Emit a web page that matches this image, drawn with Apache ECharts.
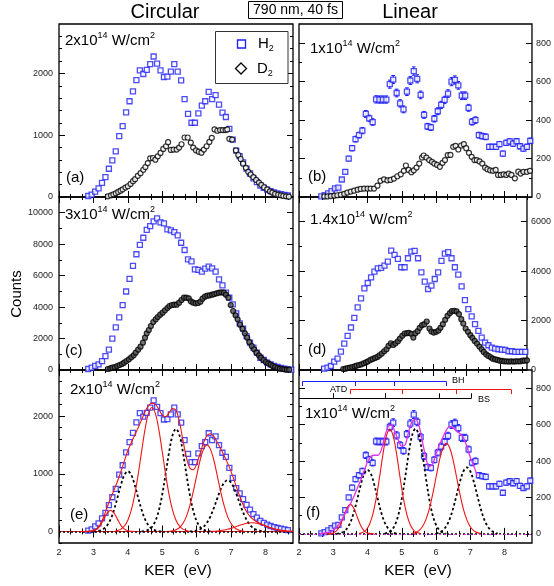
<!DOCTYPE html>
<html><head><meta charset="utf-8">
<script src="https://cdn.jsdelivr.net/npm/echarts@6/dist/echarts.min.js"></script>
<style>html,body{margin:0;padding:0;background:#fff}#c{width:554px;height:586px}</style>
</head><body><div id="c"></div>
<script>
// ---------------- DATA ----------------
// H2 KER bins (eV)
const kerH = [2.65,2.75,2.85,2.95,3.05,3.15,3.25,3.35,3.45,3.55,3.65,3.75,3.85,3.95,4.05,4.15,4.25,4.35,4.45,4.55,4.65,4.75,4.85,4.95,5.05,5.15,5.25,5.35,5.45,5.55,5.65,5.75,5.85,5.95,6.05,6.15,6.25,6.35,6.45,6.55,6.65,6.75,6.85,6.95,7.05,7.15,7.25,7.35,7.45,7.55,7.65,7.75,7.85,7.95,8.05,8.15,8.25,8.35,8.45,8.55,8.65,8.75];
// (a)/(e) circular 2e14, H2
const aH2 = [null,null,16,38,87,141,228,321,457,593,740,985,1148,1371,1550,1708,1893,2051,1991,2056,2149,2274,2160,2051,1942,1948,2029,2149,2029,1888,1583,1344,1202,1202,1355,1480,1550,1703,1583,1648,1496,1365,1295,1104,930,750,660,560,460,380,300,240,185,150,120,95,75,60,48,36,24,null];
// (b)/(f) linear 1e14, H2 and its error bars
const bH2 = [3,10,19,31,45,49,91,131,200,254,301,322,345,432,409,390,508,507,507,507,587,611,541,487,456,548,606,655,615,531,427,367,362,407,446,479,505,538,600,609,581,527,527,464,391,400,322,317,313,261,261,261,275,226,282,289,278,290,264,252,261,292];
const bH2err = [2,3,4,5,6,6,8,10,12,14,15,15,16,18,17,17,19,19,19,19,21,21,20,19,18,20,21,22,21,20,18,16,16,17,18,19,19,20,21,21,20,20,20,18,17,17,15,15,15,14,14,14,14,13,14,14,14,14,14,13,14,15];
// (c) circular 3e14, H2
const cH2 = [null,null,62,150,256,362,560,880,1300,2000,2710,3350,4130,4990,5800,6615,7360,7960,8410,8910,9150,9450,9640,9390,9320,8940,8880,8770,8560,8090,7630,7035,6910,6400,6360,6250,6440,6570,6460,6250,5760,5380,4920,4600,4170,3600,2970,2630,2160,1740,1420,1100,780,636,466,360,254,190,127,85,42,21];
// (d) linear 1.4e14, H2
const dH2 = [null,54,95,162,338,460,745,1070,1381,1720,2112,2532,2898,3304,3520,3751,3981,4116,4130,4224,4387,4834,4658,4495,4157,4157,4522,4793,4820,4522,3954,3575,3277,3412,3683,3954,4414,4712,4766,4522,4157,3859,3385,2830,2464,2166,1855,1584,1313,1110,1002,907,867,839,826,812,758,758,731,731,731,731];

// D2 (own KER bins)
const aD2x = [3.42,3.51,3.58,3.65,3.72,3.79,3.85,3.93,4.00,4.08,4.15,4.21,4.29,4.37,4.45,4.51,4.58,4.65,4.73,4.80,4.87,4.95,5.03,5.11,5.17,5.25,5.33,5.42,5.49,5.56,5.65,5.74,5.83,5.90,5.98,6.06,6.14,6.21,6.29,6.37,6.44,6.52,6.60,6.68,6.76,6.84,6.89,6.95,7.03,7.14,7.21,7.28,7.35,7.43,7.50,7.57,7.65,7.73,7.81,7.88,7.96,8.05,8.13,8.20,8.28,8.37,8.45,8.52,8.60,8.68];
const aD2y = [11,27,44,60,82,103,125,152,174,212,256,288,343,386,441,484,549,626,631,604,658,713,778,821,887,762,767,767,800,854,963,963,881,800,756,734,718,767,821,892,957,1093,1072,1083,1083,1083,1093,941,930,756,680,615,539,473,408,364,321,277,234,196,158,125,92,71,49,38,27,16,11,5];
const bD2x = [2.74,2.83,2.93,3.03,3.12,3.22,3.32,3.41,3.51,3.61,3.71,3.80,3.90,4.00,4.09,4.19,4.29,4.38,4.48,4.58,4.67,4.77,4.87,4.97,5.06,5.12,5.20,5.28,5.35,5.43,5.51,5.59,5.64,5.72,5.80,5.88,5.95,6.03,6.11,6.19,6.26,6.34,6.42,6.50,6.57,6.65,6.73,6.81,6.88,6.96,7.04,7.12,7.19,7.27,7.35,7.43,7.50,7.58,7.66,7.74,7.81,7.89,7.97,8.05,8.12,8.20,8.30,8.40,8.47,8.55,8.65,8.74];
const bD2y = [3,3,5,7,9,12,16,23,28,33,38,42,44,44,44,44,59,84,92,87,89,96,108,118,136,164,141,129,139,153,174,205,216,205,192,183,174,167,157,178,192,218,219,261,266,247,268,275,254,230,209,192,192,185,174,153,145,139,136,141,115,115,118,115,122,115,97,132,122,131,131,136];
const cD2x = [3.42,3.49,3.55,3.62,3.69,3.76,3.83,3.89,3.96,4.03,4.10,4.17,4.23,4.30,4.37,4.44,4.50,4.55,4.61,4.67,4.74,4.81,4.87,4.94,5.01,5.08,5.15,5.21,5.28,5.35,5.42,5.49,5.56,5.63,5.70,5.77,5.83,5.90,5.97,6.04,6.11,6.17,6.24,6.31,6.38,6.45,6.51,6.58,6.65,6.72,6.79,6.85,6.92,6.99,7.06,7.13,7.19,7.26,7.33,7.40,7.47,7.53,7.60,7.67,7.74,7.81,7.87,7.94,8.01,8.08,8.15,8.21,8.28,8.35,8.42,8.49,8.55,8.62,8.69];
const cD2y = [64,106,148,191,254,318,381,466,572,678,805,932,1102,1293,1483,1738,2055,2331,2543,2797,3051,3221,3369,3518,3645,3793,3941,4068,4132,4153,4153,4280,4450,4598,4598,4556,4365,4280,4238,4259,4344,4535,4662,4725,4747,4789,4831,4874,4916,4937,4916,4789,4598,4132,3751,3475,3221,2882,2628,2331,2055,1780,1526,1314,1102,932,784,636,509,424,339,254,191,127,85,64,42,21,21];
const dD2x = [3.32,3.39,3.45,3.52,3.59,3.66,3.72,3.79,3.86,3.93,4.00,4.06,4.13,4.20,4.27,4.34,4.40,4.47,4.54,4.61,4.67,4.74,4.81,4.88,4.95,5.01,5.08,5.15,5.22,5.28,5.35,5.41,5.47,5.54,5.60,5.67,5.74,5.81,5.89,5.95,6.02,6.09,6.16,6.22,6.29,6.36,6.43,6.50,6.56,6.63,6.70,6.77,6.84,6.90,6.97,7.04,7.11,7.17,7.24,7.31,7.38,7.45,7.51,7.58,7.65,7.72,7.78,7.85,7.92,7.99,8.06,8.12,8.19,8.26,8.33,8.40,8.46,8.53,8.60,8.67,8.73,8.80];
const dD2y = [41,54,81,95,122,149,176,203,230,271,311,352,406,447,487,528,596,663,758,839,975,1083,1016,1083,1164,1273,1381,1476,1489,1503,1462,1313,1489,1571,1706,1814,1855,1963,1679,1557,1516,1544,1598,1706,1855,2031,2193,2302,2383,2397,2370,2261,2058,1882,1679,1544,1408,1300,1178,1070,948,839,731,636,569,515,460,433,406,379,366,352,352,339,352,339,352,352,352,379,379,393];

// (e) fitted peaks (red solid, black dotted)
const eRedPeaks = [
 [[2.8,0],[2.9,2],[3.0,11],[3.1,40],[3.2,105],[3.3,210],[3.4,318],[3.5,365],[3.6,318],[3.7,210],[3.8,105],[3.9,40],[4.0,11],[4.1,2],[4.2,0]],
 [[3.6,0],[3.7,17],[3.8,41],[3.9,95],[4.0,196],[4.1,370],[4.2,634],[4.3,985],[4.4,1385],[4.5,1769],[4.6,2047],[4.7,2150],[4.8,2047],[4.9,1769],[5.0,1385],[5.1,985],[5.2,634],[5.3,370],[5.4,196],[5.5,95],[5.6,41],[5.7,17],[5.8,0]],
 [[5.2,0],[5.3,12],[5.4,29],[5.5,66],[5.6,137],[5.7,258],[5.8,443],[5.9,687],[6.0,966],[6.1,1235],[6.2,1428],[6.3,1500],[6.4,1428],[6.5,1235],[6.6,966],[6.7,687],[6.8,443],[6.9,258],[7.0,137],[7.1,66],[7.2,29],[7.3,12],[7.4,0]],
 [[6.4,3],[6.5,5],[6.6,9],[6.7,15],[6.8,24],[6.9,37],[7.0,54],[7.1,74],[7.2,95],[7.3,116],[7.4,134],[7.5,146],[7.6,150],[7.7,146],[7.8,134],[7.9,116],[8.0,95],[8.1,74],[8.2,54],[8.3,37],[8.4,24],[8.5,15],[8.6,9],[8.7,5],[8.8,3]]
];
const eBlackPeaks = [
 [[3.0,0],[3.1,6],[3.2,18],[3.3,46],[3.4,106],[3.5,212],[3.6,376],[3.7,588],[3.8,810],[3.9,980],[4.0,1045],[4.1,980],[4.2,810],[4.3,588],[4.4,376],[4.5,212],[4.6,106],[4.7,46],[4.8,18],[4.9,6],[5.0,0]],
 [[4.4,0],[4.5,11],[4.6,30],[4.7,78],[4.8,180],[4.9,361],[5.0,641],[5.1,1002],[5.2,1380],[5.3,1670],[5.4,1780],[5.5,1670],[5.6,1380],[5.7,1002],[5.8,641],[5.9,361],[6.0,180],[6.1,78],[6.2,30],[6.3,11],[6.4,0]],
 [[5.8,0],[5.9,7],[6.0,17],[6.1,39],[6.2,81],[6.3,153],[6.4,263],[6.5,408],[6.6,573],[6.7,732],[6.8,847],[6.9,890],[7.0,847],[7.1,732],[7.2,573],[7.3,408],[7.4,263],[7.5,153],[7.6,81],[7.7,39],[7.8,17],[7.9,7],[8.0,0]]
];
const kerFit = [2.6,2.7,2.8,2.9,3.0,3.1,3.2,3.3,3.4,3.5,3.6,3.7,3.8,3.9,4.0,4.1,4.2,4.3,4.4,4.5,4.6,4.7,4.8,4.9,5.0,5.1,5.2,5.3,5.4,5.5,5.6,5.7,5.8,5.9,6.0,6.1,6.2,6.3,6.4,6.5,6.6,6.7,6.8,6.9,7.0,7.1,7.2,7.3,7.4,7.5,7.6,7.7,7.8,7.9,8.0,8.1,8.2,8.3,8.4,8.5,8.6,8.7,8.8];
const eTotal = [0,0,3,8,20,52,125,256,424,577,720,870,1040,1225,1400,1540,1670,1800,1935,2075,2180,2225,2205,2120,2020,1990,2060,2130,2100,1900,1590,1290,1100,1070,1170,1352,1539,1664,1694,1648,1548,1434,1314,1185,1038,872,697,536,397,299,231,185,151,123,95,74,54,37,24,15,9,5,3];

// (f) fitted peaks
const fRedPeaks = [
 [[2.8,0],[2.9,1],[3.0,5],[3.1,18],[3.2,46],[3.3,93],[3.4,141],[3.5,162],[3.6,141],[3.7,93],[3.8,46],[3.9,18],[4.0,5],[4.1,1],[4.2,0]],
 [[3.75,2],[3.85,7],[3.95,20],[4.05,49],[4.15,104],[4.25,192],[4.35,310],[4.45,437],[4.55,537],[4.65,575],[4.75,537],[4.85,437],[4.95,310],[5.05,192],[5.15,104],[5.25,49],[5.35,20],[5.45,7],[5.55,2]],
 [[5.3,3],[5.4,7],[5.5,18],[5.6,39],[5.7,77],[5.8,135],[5.9,216],[6.0,311],[6.1,404],[6.2,472],[6.3,497],[6.4,472],[6.5,404],[6.6,311],[6.7,216],[6.8,135],[6.9,77],[7.0,39],[7.1,18],[7.2,7],[7.3,3]]
];
const fBlackPeaks = [
 [[3.1,1],[3.2,4],[3.3,12],[3.4,30],[3.5,63],[3.6,118],[3.7,190],[3.8,268],[3.9,329],[4.0,352],[4.1,329],[4.2,268],[4.3,190],[4.4,118],[4.5,63],[4.6,30],[4.7,12],[4.8,4],[4.9,1]],
 [[4.5,2],[4.6,7],[4.7,20],[4.8,49],[4.9,104],[5.0,193],[5.1,312],[5.2,439],[5.3,540],[5.4,578],[5.5,540],[5.6,439],[5.7,312],[5.8,193],[5.9,104],[6.0,49],[6.1,20],[6.2,7],[6.3,2]],
 [[6.0,3],[6.1,8],[6.2,20],[6.3,43],[6.4,82],[6.5,141],[6.6,214],[6.7,288],[6.8,344],[6.9,365],[7.0,344],[7.1,288],[7.2,214],[7.3,141],[7.4,82],[7.5,43],[7.6,20],[7.7,8],[7.8,3]]
];
const fTotal = [[2.6,2],[2.7,4],[2.8,7],[2.9,10],[3.0,20],[3.1,38],[3.2,62],[3.3,95],[3.4,130],[3.5,165],[3.6,205],[3.7,250],[3.8,295],[3.9,345],[4.0,395],[4.1,425],[4.2,432],[4.3,432],[4.4,460],[4.5,530],[4.6,590],[4.7,598],[4.8,560],[4.9,515],[5.0,482],[5.1,490],[5.2,560],[5.3,615],[5.4,630],[5.5,595],[5.6,510],[5.7,420],[5.8,370],[5.9,385],[6.0,440],[6.1,490],[6.2,530],[6.3,570],[6.4,590],[6.5,582],[6.6,565],[6.7,550],[6.8,528],[6.9,480],[7.0,420],[7.1,375],[7.2,320]];

// energy combs drawn above panel (f)
const combBH = [2.1,3.65,4.78,6.3];
const combATD = [3.5,5.02,6.59,8.19];
const combBS = [2.99,4.52,6.09,7.04];

// axis ticks
const xMajor = [2,3,4,5,6,7,8];
const xMinor = [2.333,2.667,3.333,3.667,4.333,4.667,5.333,5.667,6.333,6.667,7.333,7.667,8.333,8.667];
const yMajor = [[0,1000,2000],[0,200,400,600,800],[0,2000,4000,6000,8000,10000],[0,2000,4000,6000],[0,1000,2000],[0,200,400,600,800]];
const yMinor = [[200,400,600,800,1200,1400,1600,1800,2200,2400,2600],[100,300,500,700],[1000,3000,5000,7000,9000],[1000,3000,5000],[-200,200,400,600,800,1200,1400,1600,1800,2200,2400,2600],[100,300,500,700]];
const yRange = [[0,2800],[0,900],[0,11000],[0,7000],[-200,2800],[-50,900]];

// ---------------- CHART ----------------
const FF = "'Liberation Sans', Arial, sans-serif";
const BLUE = '#1e1ef5', RED = '#f01414', MAG = '#e632e6';
const GL = [59, 299], GT = [24, 197, 370], GW = 234, GH = 173;
const grids = [], xAxes = [], yAxes = [], series = [];
for (let i = 0; i < 6; i++) {
  const col = i % 2, row = Math.floor(i / 2);
  grids.push({left: GL[col], top: GT[row], width: GW, height: GH, show: true, borderColor: '#000', borderWidth: 1.3, backgroundColor: 'transparent'});
  const xa = (pos, vals, len, lab) => ({type: 'value', gridIndex: i, position: pos, min: 2, max: 8.8,
    axisLine: {show: false}, splitLine: {show: false},
    axisTick: {show: true, inside: true, length: len, customValues: vals, lineStyle: {color: '#000', width: 1}},
    axisLabel: {show: lab, customValues: vals, margin: 5, fontSize: 9, color: '#222', fontFamily: FF, formatter: v => String(v)}});
  xAxes.push(xa('bottom', xMajor, 6, row === 2), xa('bottom', xMinor, 3, false), xa('top', xMajor, 6, false), xa('top', xMinor, 3, false));
  const ya = (pos, vals, len, lab) => ({type: 'value', gridIndex: i, position: pos, min: yRange[i][0], max: yRange[i][1],
    axisLine: {show: false}, splitLine: {show: false},
    axisTick: {show: true, inside: true, length: len, customValues: vals, lineStyle: {color: '#000', width: 1}},
    axisLabel: {show: lab, customValues: vals, margin: col === 0 ? 6 : 4, fontSize: 9, color: '#222', fontFamily: FF, formatter: v => String(v)}});
  yAxes.push(ya('left', yMajor[i], 6, col === 0), ya('left', yMinor[i], 3, false), ya('right', yMajor[i], 6, col === 1), ya('right', yMinor[i], 3, false));
}
const ax = g => ({xAxisIndex: 4 * g, yAxisIndex: 4 * g});
const pairs = (xs, ys) => xs.map((x, k) => ys[k] == null ? null : [x, ys[k]]).filter(p => p);

function addH2(g, ys, err) {
  if (err) {
    series.push(Object.assign({type: 'custom', z: 3, silent: true,
      data: kerH.map((x, k) => [x, ys[k] - err[k], ys[k] + err[k]]),
      encode: {x: 0, y: [1, 2]},
      renderItem: (p, api) => {
        const a = api.coord([api.value(0), api.value(1)]), b = api.coord([api.value(0), api.value(2)]);
        const st = {stroke: BLUE, lineWidth: 1};
        return {type: 'group', children: [
          {type: 'line', shape: {x1: a[0], y1: a[1], x2: b[0], y2: b[1]}, style: st},
          {type: 'line', shape: {x1: a[0] - 1.8, y1: a[1], x2: a[0] + 1.8, y2: a[1]}, style: st},
          {type: 'line', shape: {x1: b[0] - 1.8, y1: b[1], x2: b[0] + 1.8, y2: b[1]}, style: st}]};
      }}, ax(g)));
  }
  series.push(Object.assign({type: 'scatter', z: 4, symbol: 'rect', symbolSize: 5, data: pairs(kerH, ys),
    itemStyle: {color: '#fff', borderColor: BLUE, borderWidth: 1.3}}, ax(g)));
}
function addD2(g, xs, ys, fill) {
  series.push(Object.assign({type: 'scatter', z: 5, symbol: 'circle', symbolSize: 5, data: pairs(xs, ys),
    itemStyle: {color: fill, borderColor: '#000', borderWidth: 1.2}}, ax(g)));
}
function addLine(g, data, color, width, type, z) {
  series.push(Object.assign({type: 'line', z: z || 6, data: data, showSymbol: false, symbol: 'none', smooth: 0.35,
    lineStyle: {color: color, width: width, type: type || 'solid'}, silent: true}, ax(g)));
}
// (a)
addH2(0, aH2); addD2(0, aD2x, aD2y, '#fff');
// (b)
addH2(1, bH2, bH2err); addD2(1, bD2x, bD2y, '#fff');
// (c)
addH2(2, cH2); addD2(2, cD2x, cD2y, '#555');
// (d)
addH2(3, dH2); addD2(3, dD2x, dD2y, '#555');
// (e)
addH2(4, aH2);
series.push(Object.assign({type: 'line', data: [], z: 6, markLine: {symbol: 'none', silent: true, label: {show: false},
  data: [{yAxis: 0, lineStyle: {color: RED, width: 1.2, type: 'solid'}}, {yAxis: 0, lineStyle: {color: '#000', width: 1.6, type: [2, 2]}}]}}, ax(4)));
eBlackPeaks.forEach(d => addLine(4, d, '#000', 1.8, [2.5, 2.5], 6));
eRedPeaks.forEach(d => addLine(4, d, RED, 1.1, 'solid', 7));
addLine(4, pairs(kerFit, eTotal), RED, 1.1, 'solid', 7);
// (f)
addH2(5, bH2, bH2err);
series.push(Object.assign({type: 'line', data: [], z: 6, markLine: {symbol: 'none', silent: true, label: {show: false},
  data: [{yAxis: 0, lineStyle: {color: '#000', width: 1.6, type: [2, 2]}}, {yAxis: 0, lineStyle: {color: MAG, width: 1, type: [2, 3]}}]}}, ax(5)));
fBlackPeaks.forEach(d => addLine(5, d, '#000', 1.8, [2.5, 2.5], 6));
fRedPeaks.forEach(d => addLine(5, d, RED, 1.1, 'solid', 7));
addLine(5, fTotal, MAG, 1.3, 'solid', 8);
// combs above (f)
function comb(vals, level, dir, color, fromLeft) {
  const segs = [];
  const start = fromLeft ? 2 : vals[0];
  segs.push({coords: [[start, level], [vals[vals.length - 1], level]]});
  vals.forEach(v => segs.push({coords: [[v, level], [v, level + dir]]}));
  series.push(Object.assign({type: 'lines', coordinateSystem: 'cartesian2d', polyline: false, silent: true, z: 9,
    lineStyle: {color: color, width: 1, opacity: 1}, data: segs}, ax(5)));
}
comb(combBH, 837, -25, BLUE, false);
comb(combATD, 793, -25, RED, false);
comb(combBS, 747, 25, '#000', true);

// ---------------- TEXT ----------------
const T = (x, y, text, size, opts) => Object.assign({type: 'text', x: x, y: y, z: 100,
  style: Object.assign({text: text, fontSize: size, fontFamily: FF, fill: '#000', align: 'left', verticalAlign: 'middle', textAlign: 'left', textVerticalAlign: 'middle'}, (opts && opts.style) || {})},
  opts && opts.el || {});
const supRich = size => ({b: {fontSize: size, fontFamily: FF, fill: '#000', color: '#000', lineHeight: size + 4}, s: {fontSize: 9, fontFamily: FF, color: '#000', fill: '#000', verticalAlign: 'top', lineHeight: 10}});
const intens = (x, y, pre) => T(x, y, '{b|' + pre + 'x10}{s|14}{b| W/cm}{s|2}', 15, {style: {rich: supRich(15)}});
const graphic = [
  T(165, 12, 'Circular', 20, {style: {align: 'center', textAlign: 'center'}}),
  T(410, 12, 'Linear', 20, {style: {align: 'center', textAlign: 'center'}}),
  {type: 'rect', z: 100, shape: {x: 248.5, y: 1.5, width: 94, height: 17}, style: {fill: '#fff', stroke: '#000', lineWidth: 1}},
  T(295.5, 10.5, '790 nm, 40 fs', 14, {style: {align: 'center', textAlign: 'center'}}),
  T(17, 294, 'Counts', 15, {style: {align: 'center', textAlign: 'center'}, el: {rotation: Math.PI / 2}}),
  T(178, 571, 'KER  (eV)', 15, {style: {align: 'center', textAlign: 'center'}}),
  T(418, 571, 'KER  (eV)', 15, {style: {align: 'center', textAlign: 'center'}}),
  intens(65, 41, '2'), intens(310, 49, '1'), intens(65, 215, '3'), intens(310, 220, '1.4'), intens(70, 390, '2'), intens(305, 414, '1'),
  T(66, 178, '(a)', 15), T(308, 177, '(b)', 15), T(65, 351, '(c)', 15), T(308, 350, '(d)', 15), T(70, 515, '(e)', 15), T(306, 513, '(f)', 15),
  // legend
  {type: 'rect', z: 100, shape: {x: 215.5, y: 31.5, width: 72.5, height: 52}, style: {fill: '#fff', stroke: '#333', lineWidth: 1}},
  {type: 'rect', z: 101, shape: {x: 237.5, y: 40, width: 8, height: 8}, style: {fill: 'none', stroke: BLUE, lineWidth: 1.3}},
  {type: 'polygon', z: 101, shape: {points: [[241, 63], [246.5, 68.5], [241, 74], [235.5, 68.5]]}, style: {fill: 'none', stroke: '#000', lineWidth: 1.3}},
  T(258, 44, '{h|H}{t|2}', 15, {style: {rich: {h: {fontSize: 15, fontFamily: FF, color: BLUE, lineHeight: 19}, t: {fontSize: 9, fontFamily: FF, color: BLUE, verticalAlign: 'bottom', lineHeight: 10}}}}),
  T(257, 69, '{h|D}{t|2}', 15, {style: {rich: {h: {fontSize: 15, fontFamily: FF, color: '#000', lineHeight: 19}, t: {fontSize: 9, fontFamily: FF, color: '#000', verticalAlign: 'bottom', lineHeight: 10}}}}),
  // comb labels
  T(452, 381, 'BH', 9), T(330, 390, 'ATD', 9), T(478, 400, 'BS', 9)
];

const chart = echarts.init(document.getElementById('c'), null, {renderer: 'canvas'});
chart.setOption({animation: false, backgroundColor: '#fff', grid: grids, xAxis: xAxes, yAxis: yAxes, series: series, graphic: graphic});
</script></body></html>
